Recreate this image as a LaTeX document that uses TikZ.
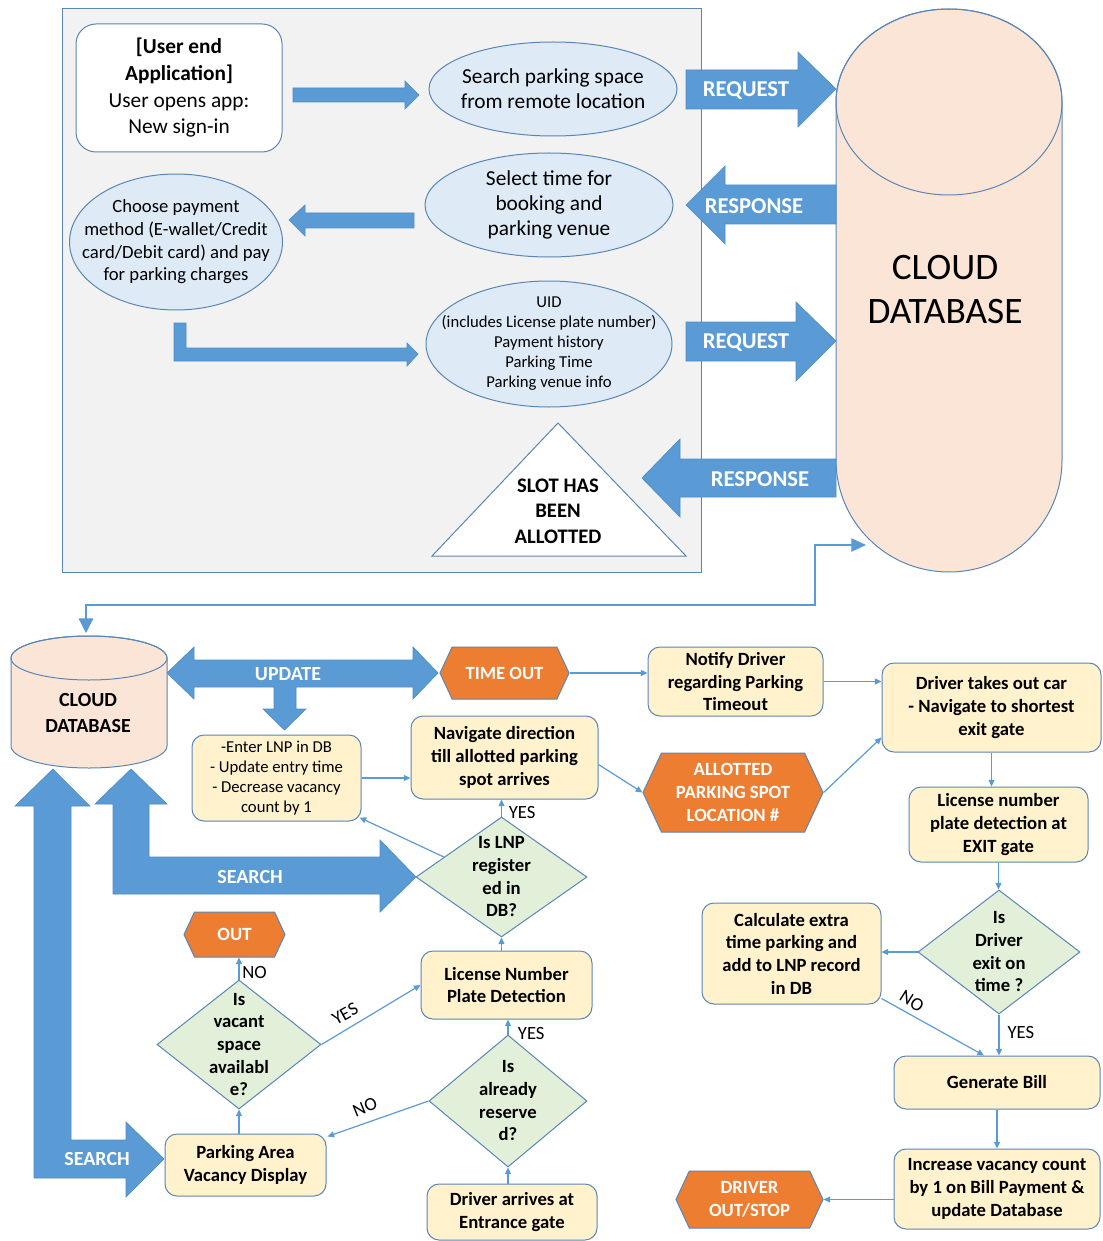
\documentclass[tikz,border=0pt]{standalone}
\usepackage{fontspec}
\setmainfont{Carlito}
\usetikzlibrary{shapes.geometric,shapes.symbols,arrows.meta,calc}

\definecolor{arrowblue}{HTML}{5B9BD5}
\definecolor{arrowedge}{HTML}{4E8CC6}
\definecolor{edgeblue}{HTML}{5A86B5}
\definecolor{linkblue}{HTML}{5B9BD5}
\definecolor{panelfill}{HTML}{F2F2F2}
\definecolor{bubblefill}{HTML}{DEEBF7}
\definecolor{boxfill}{HTML}{FFF2CC}
\definecolor{decfill}{HTML}{E2F0D9}
\definecolor{endorange}{HTML}{ED7D31}
\definecolor{cylfill}{HTML}{FBE5D6}

\tikzset{every picture/.style={line width=0.75pt}}
\tikzset{
  wh/.style 2 args={minimum width=#1*0.75pt, minimum height=#2*0.75pt},
  blockarrow/.style={fill=arrowblue, draw=arrowedge, line width=0.5pt},
  arrowtext/.style={text=white, font=\fontsize{17}{20}\selectfont\bfseries},
  appbox/.style={rectangle, rounded corners=15pt, draw=edgeblue, fill=white, align=center, font=\fontsize{16}{20}\selectfont},
  bubble/.style={ellipse, draw=edgeblue, fill=bubblefill, inner sep=0pt},
  bubbletext/.style={align=center, font=\fontsize{16}{19}\selectfont},
  stepbox/.style={rectangle, rounded corners=9pt, draw=edgeblue, fill=boxfill, align=center, font=\fontsize{14}{17}\selectfont\bfseries, inner sep=2pt},
  decision/.style={diamond, draw=edgeblue, fill=decfill, inner sep=0pt},
  dtext/.style={align=center, font=\fontsize{14}{17}\selectfont\bfseries},
  endpoint/.style={signal, signal to=west and east, signal pointer angle=130, draw=edgeblue, fill=endorange, text=white, align=center, font=\fontsize{14}{17}\selectfont\bfseries, inner sep=0pt},
  conn/.style={draw=linkblue, line width=0.9pt, -{Triangle[length=5pt,width=4.5pt]}},
  answer/.style={font=\fontsize{14}{16}\selectfont, text=black, inner sep=2pt}
}

\begin{document}
\begin{tikzpicture}[x=0.75pt,y=0.75pt,yscale=-1,xscale=1]
%set diagram size to the 1102 x 1241 picture
\path[use as bounding box, fill=white] (0,0) rectangle (1102,1241);

%Shape: Rectangle (user end panel)
\draw[draw=edgeblue, fill=panelfill] (62,9) rectangle (701,572);

% Text Node
\node[appbox, wh={206}{128}] (userapp) at (179,88) {\textbf{[User end}\\\textbf{Application]}\\User opens app:\\New sign-in};

%Shape: Ellipse
\node[bubble, wh={248}{94}, label={[name=searchtxt, bubbletext]center:{Search parking space\\from remote location}}] (search) at (553,89) {};
%Shape: Ellipse
\node[bubble, wh={248}{104}, label={[name=selecttxt, bubbletext]center:{Select time for\\booking and\\parking venue}}] (select) at (549,205) {};
%Shape: Ellipse
\node[bubble, wh={213}{136}, label={[name=paytxt, align=center, font=\fontsize{14}{17}\selectfont]center:{Choose payment\\method (E-wallet/Credit\\card/Debit card) and pay\\for parking charges}}] (pay) at (176,242) {};
%Shape: Ellipse
\node[bubble, wh={246}{126}, label={[name=uidtxt, align=center, font=\fontsize{12.5}{15}\selectfont]center:{UID\\(includes License plate number)\\Payment history\\Parking Time\\Parking venue info}}] (uid) at (549,344) {};

%Shape: Triangle
\draw[draw=edgeblue, fill=white] (558,423) -- (686,556) -- (432,556) -- cycle;
% Text Node
\node[align=center, font=\fontsize{15.5}{19}\selectfont\bfseries] (slot) at (558,511) {SLOT HAS\\BEEN\\ALLOTTED};

%Shape: Block Arrows (panel)
\draw[blockarrow] (293,88) -- (405,88) -- (405,81) -- (419,95) -- (405,109) -- (405,102) -- (293,102) -- cycle;
\draw[blockarrow] (414,213) -- (305,213) -- (305,205) -- (289,220) -- (305,236) -- (305,228) -- (414,228) -- cycle;
\draw[blockarrow] (174,323) -- (186,323) -- (186,348) -- (407,348) -- (407,343) -- (418,354) -- (407,366) -- (407,361) -- (174,361) -- cycle;

%Shape: Can (cloud database)
\draw[draw=edgeblue, fill=cylfill] (836,102) -- (836,460) arc[start angle=180, end angle=0, x radius=113, y radius=112] -- (1062,102) arc[start angle=0, end angle=-180, x radius=113, y radius=93] -- cycle;
\draw[draw=edgeblue] (949,102) ellipse[x radius=113, y radius=93];
% Text Node
\node[align=center, font=\fontsize{28}{33}\selectfont] (cloudtxt) at (945,290) {CLOUD\\DATABASE};

%Shape: Block Arrows (request / response)
\draw[blockarrow] (686,70) -- (798,70) -- (798,52) -- (836,89) -- (798,127) -- (798,109) -- (686,109) -- cycle;
\node[arrowtext] (req1) at (746,90) {REQUEST};
\draw[blockarrow] (836,185) -- (725,185) -- (725,166) -- (686,205) -- (725,244) -- (725,224) -- (836,224) -- cycle;
\node[arrowtext] (resp1) at (754,206) {RESPONSE};
\draw[blockarrow] (686,322) -- (796,322) -- (796,302) -- (836,341) -- (796,381) -- (796,361) -- (686,361) -- cycle;
\node[arrowtext] (req2) at (746,342) {REQUEST};
\draw[blockarrow] (836,459) -- (680,459) -- (680,439) -- (642,478) -- (680,517) -- (680,497) -- (836,497) -- cycle;
\node[arrowtext] (resp2) at (760,479) {RESPONSE};

%Shape: Can (small database)
\draw[draw=edgeblue, fill=cylfill] (11,658) -- (11,746) arc[start angle=180, end angle=0, x radius=78, y radius=22] -- (167,658) arc[start angle=0, end angle=-180, x radius=78, y radius=22] -- cycle;
\draw[draw=edgeblue] (89,658) ellipse[x radius=78, y radius=22];
% Text Node
\node[align=center, font=\fontsize{15}{19}\selectfont\bfseries] (dbtxt) at (88,713) {CLOUD\\DATABASE};

%Straight Lines (link between databases)
\coordinate (dbtip) at (866,545);
\coordinate (smalltop) at (86,633);
\coordinate (bendA) at (815,605);
\draw[draw=linkblue, line width=0.9pt, {Triangle[length=11pt,width=11pt]}-{Triangle[length=11pt,width=10pt]}] (smalltop) |- (bendA) |- (dbtip);

%Shape: Block Arrows (update / search)
\draw[blockarrow] (167,673) -- (194,647) -- (194,660) -- (413,660) -- (413,647) -- (438,673) -- (413,699) -- (413,687) -- (296,687) -- (296,709) -- (306,709) -- (284.5,730) -- (263,709) -- (274,709) -- (274,687) -- (194,687) -- (194,699) -- cycle;
\node[arrowtext, font=\fontsize{15}{18}\selectfont\bfseries] (update) at (288,674) {UPDATE};
\draw[blockarrow] (131,769) -- (167,804) -- (149,804) -- (149,857) -- (380,857) -- (380,840) -- (416,877) -- (380,912) -- (380,894) -- (113,894) -- (113,804) -- (95,804) -- cycle;
\node[arrowtext, font=\fontsize{15}{18}\selectfont\bfseries] (search1) at (250,877) {SEARCH};
\draw[blockarrow] (53,769) -- (90,806) -- (71,806) -- (71,1140) -- (126,1140) -- (126,1122) -- (164,1159) -- (126,1197) -- (126,1178) -- (34,1178) -- (34,806) -- (15,806) -- cycle;
\node[arrowtext, font=\fontsize{15}{18}\selectfont\bfseries] (search2) at (97,1159) {SEARCH};

%Flowchart: Terminators
\node[endpoint, wh={129}{52}] (timeout) at (504.5,673) {TIME OUT};
\node[endpoint, wh={180}{79}] (allot) at (733,792.5) {ALLOTTED\\PARKING SPOT\\LOCATION \#};
\node[endpoint, wh={101}{45}] (out) at (234.5,934.5) {OUT};
\node[endpoint, wh={147}{57}] (stop) at (749.5,1199.5) {DRIVER\\OUT/STOP};

%Flowchart: Process
\node[stepbox, wh={175}{69}] (notify) at (735.5,681.5) {Notify Driver\\regarding Parking\\Timeout};
\node[stepbox, wh={219}{89}] (takeout) at (991.5,707.5) {Driver takes out car\\- Navigate to shortest\\exit gate};
\node[stepbox, wh={179}{75}] (exitlnp) at (998.5,824.5) {License number\\plate detection at\\EXIT gate};
\node[stepbox, wh={179}{101}] (calcx) at (791.5,953.5) {Calculate extra\\time parking and\\add to LNP record\\in DB};
\node[stepbox, wh={206}{53}] (bill) at (997,1082.5) {Generate Bill};
\node[stepbox, wh={206}{80}] (incr) at (997,1189) {Increase vacancy count\\by 1 on Bill Payment \&\\update Database};
\node[stepbox, wh={169}{86}, font=\fontsize{12.5}{15}\selectfont] (enter) at (276.5,778) {-Enter LNP in DB\\- Update entry time\\- Decrease vacancy\\count by 1};
\node[stepbox, wh={187}{83}] (nav) at (504.5,757.5) {Navigate direction\\till allotted parking\\spot arrives};
\node[stepbox, wh={171}{68}] (lnpd) at (506.5,985) {License Number\\Plate Detection};
\node[stepbox, wh={161}{62}] (park) at (245.5,1165) {Parking Area\\Vacancy Display};
\node[stepbox, wh={170}{56}] (arrive) at (512,1212) {Driver arrives at\\Entrance gate};

%Flowchart: Decision
\node[decision, wh={162}{124}, label={[name=exitqtxt, dtext]center:{Is\\Driver\\exit on\\time ?}}] (exitq) at (999,952) {};
\node[decision, wh={171}{120}, label={[name=lnpqtxt, dtext]center:{Is LNP\\register\\ed in\\DB?}}] (lnpq) at (501.5,877) {};
\node[decision, wh={164}{129}, label={[name=vacqtxt, dtext]center:{Is\\vacant\\space\\availabl\\e?}}] (vacq) at (239,1044.5) {};
\node[decision, wh={158}{132}, label={[name=resqtxt, dtext]center:{Is\\already\\reserve\\d?}}] (resq) at (508,1101) {};

%Straight Lines
\draw[conn] (timeout.east) -- (notify.west|-timeout.east);
\draw[conn] (notify.east) -- (takeout.west|-notify.east);
\draw[conn] (takeout.south) -- (takeout.south|-exitlnp.north);
\draw[conn] (exitlnp.south) -- (exitlnp.south|-exitq.north);
\draw[conn] (exitq.west) -- (calcx.east|-exitq.west);
\draw[conn] ($(calcx.south east)+(0,-6)$) -- ($(bill.north)+(-13,0)$);
\draw[conn] (exitq.south) -- node[answer, right=4pt, pos=0.45] (yes4) {YES} (exitq.south|-bill.north);
\draw[conn] (bill.south) -- (incr.north);
\draw[conn] (incr.west|-stop.east) -- (stop.east);
\draw[conn] (enter.east) -- (nav.west|-enter.east);
\draw[conn] ($(nav.east)+(0,7)$) -- (allot.west);
\draw[conn] (allot.east) -- ($(takeout.west)+(0,30)$);
\draw[conn] (lnpq.north) -- node[answer, right=3pt, pos=0.25] (yes1) {YES} (lnpq.north|-nav.south);
\draw[conn] ($(lnpq.west)!0.33!(lnpq.north)$) -- ($(enter.south east)+(-2,-4)$);
\draw[conn] (lnpq.south|-lnpd.north) -- (lnpq.south);
\draw[conn] (resq.north) -- node[answer, right=5pt, pos=0.05] (yes3) {YES} (resq.north|-lnpd.south);
\draw[conn] (resq.south|-arrive.north) -- (resq.south);
\draw[conn] (resq.west) -- ($(park.north east)+(1,3)$);
\draw[conn] (vacq.south|-park.north) -- (vacq.south);
\draw[conn] (vacq.north) -- node[answer, right, pos=0.3] (no1) {NO} (vacq.north|-out.south);
\draw[conn] (vacq.east) -- (lnpd.west);

% Text Node (slanted answers)
\node[answer, rotate=29] (yes2) at (345,1014) {YES};
\node[answer, rotate=22] (no2) at (365,1107) {NO};
\node[answer, rotate=-32] (no3) at (912,1001) {NO};

\end{tikzpicture}
\end{document}
